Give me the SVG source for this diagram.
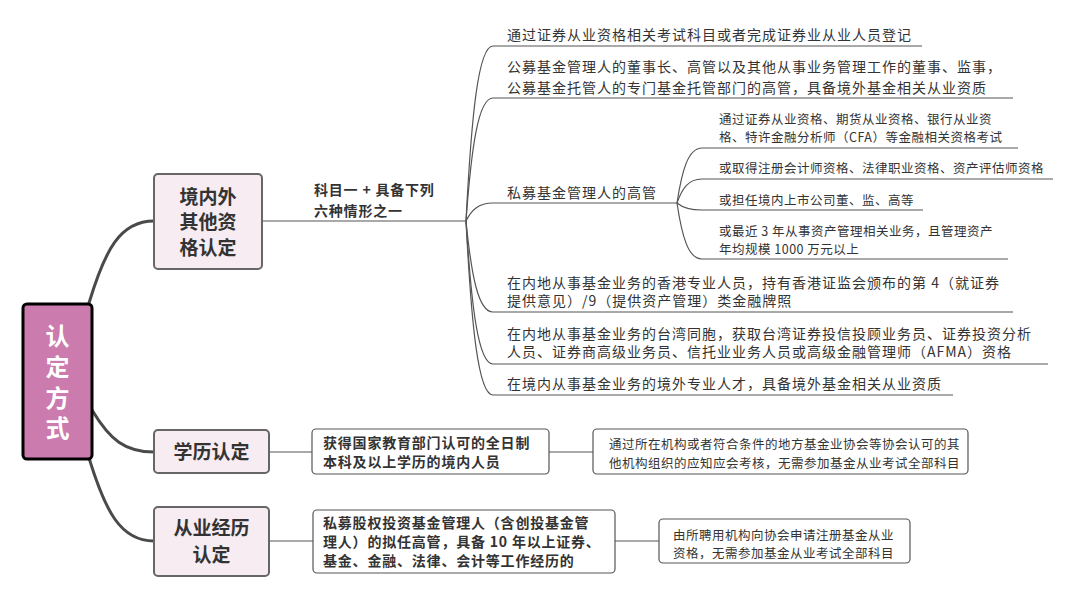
<svg xmlns="http://www.w3.org/2000/svg" width="1074" height="598" viewBox="0 0 1074 598">
<style>
.bg{fill:#ffffff}
.thick{fill:none;stroke:#4a4a4a;stroke-width:3;stroke-linecap:round}
.thin{fill:none;stroke:#555555;stroke-width:1.2}
.root{fill:#CB7BAD;stroke:#000000;stroke-width:3}
.main{fill:#F7ECF2;stroke:#666666;stroke-width:2}
.box{fill:#ffffff;stroke:#555555;stroke-width:1.2}
text{font-family:"Noto Sans CJK SC","Noto Sans",sans-serif;fill:#333333}
.rt{font-size:24px;font-weight:bold;fill:#ffffff;writing-mode:vertical-rl;letter-spacing:6.7px}
.mt{font-size:19px;font-weight:bold;text-anchor:middle}
.it{font-size:14px;letter-spacing:1px}
.st{font-size:12.5px;letter-spacing:0.5px}
.bt{font-size:14px;font-weight:bold;letter-spacing:0.8px}
</style>
<rect class="bg" x="0" y="0" width="1074" height="598"/>
<g id="connectors">
<path class="thick" d="M89,303 C105,250 120,221 154,221"/>
<path class="thick" d="M92,410 C110,440 125,452 154,452"/>
<path class="thick" d="M89,458 C105,510 120,541 154,541"/>
<path class="thin" d="M262,221 L466,221"/>
<path class="thin" d="M466,221 C471.4,116 478.2,46 493,46 L922,46"/>
<path class="thin" d="M466,221 C471.4,147.2 478.2,98 493,98 L1013,98"/>
<path class="thin" d="M466,221 C471.4,210.2 478.2,203 493,203 L677,203"/>
<path class="thin" d="M466,221 C471.4,275.6 478.2,312 493,312 L1013,312"/>
<path class="thin" d="M466,221 C471.4,306.8 478.2,364 493,364 L1048,364"/>
<path class="thin" d="M466,221 C471.4,325.4 478.2,395 493,395 L953,395"/>
<path class="thin" d="M677,203 C682,170 688.25,148 702,148 L1018,148"/>
<path class="thin" d="M677,203 C682,188.6 688.25,179 702,179 L1053,179"/>
<path class="thin" d="M677,203 C682,207.2 688.25,210 702,210 L923,210"/>
<path class="thin" d="M677,203 C682,236.6 688.25,259 702,259 L1008,259"/>
<path class="thin" d="M269,452 L312,452"/>
<path class="thin" d="M549,452 L593,452"/>
<path class="thin" d="M269,541 L313,541"/>
<path class="thin" d="M615,541 L659,541"/>
</g>
<g id="root">
<rect class="root" x="23" y="304" width="69" height="155" rx="4"/>
<text class="rt" x="57.5" y="324">认定方式</text>
</g>
<g id="node-other">
<rect class="main" x="154" y="174" width="108" height="95" rx="4"/>
<text class="mt" x="208" y="204">境内外</text>
<text class="mt" x="208" y="229">其他资</text>
<text class="mt" x="208" y="255">格认定</text>
</g>
<g id="label-six">
<text class="bt" x="314" y="195">科目一 + 具备下列</text>
<text class="bt" x="314" y="216">六种情形之一</text>
</g>
<g id="item1"><text class="it" x="507" y="40">通过证券从业资格相关考试科目或者完成证券业从业人员登记</text></g>
<g id="item2">
<text class="it" x="507" y="72">公募基金管理人的董事长、高管以及其他从事业务管理工作的董事、监事，</text>
<text class="it" x="507" y="93">公募基金托管人的专门基金托管部门的高管，具备境外基金相关从业资质</text>
</g>
<g id="item3"><text class="it" x="507" y="198">私募基金管理人的高管</text></g>
<g id="sub1">
<text class="st" x="719" y="124">通过证券从业资格、期货从业资格、银行从业资</text>
<text class="st" x="719" y="142">格、特许金融分析师（CFA）等金融相关资格考试</text>
</g>
<g id="sub2"><text class="st" x="719" y="173">或取得注册会计师资格、法律职业资格、资产评估师资格</text></g>
<g id="sub3"><text class="st" x="719" y="205">或担任境内上市公司董、监、高等</text></g>
<g id="sub4">
<text class="st" x="719" y="236">或最近 3 年从事资产管理相关业务，且管理资产</text>
<text class="st" x="719" y="254">年均规模 1000 万元以上</text>
</g>
<g id="item5">
<text class="it" x="507" y="288">在内地从事基金业务的香港专业人员，持有香港证监会颁布的第 4（就证券</text>
<text class="it" x="507" y="306">提供意见）/9（提供资产管理）类金融牌照</text>
</g>
<g id="item6">
<text class="it" x="507" y="339">在内地从事基金业务的台湾同胞，获取台湾证券投信投顾业务员、证券投资分析</text>
<text class="it" x="507" y="357">人员、证券商高级业务员、信托业业务人员或高级金融管理师（AFMA）资格</text>
</g>
<g id="item7"><text class="it" x="507" y="389">在境内从事基金业务的境外专业人才，具备境外基金相关从业资质</text></g>
<g id="node-edu">
<rect class="main" x="154" y="430" width="115" height="43" rx="4"/>
<text class="mt" x="211.5" y="459">学历认定</text>
</g>
<g id="edu-cond">
<rect class="box" x="312" y="429" width="237" height="45" rx="4"/>
<text class="bt" x="323" y="448">获得国家教育部门认可的全日制</text>
<text class="bt" x="323" y="467">本科及以上学历的境内人员</text>
</g>
<g id="edu-result">
<rect class="box" x="593" y="429" width="375" height="45" rx="4"/>
<text class="st" x="609" y="449">通过所在机构或者符合条件的地方基金业协会等协会认可的其</text>
<text class="st" x="609" y="468">他机构组织的应知应会考核，无需参加基金从业考试全部科目</text>
</g>
<g id="node-exp">
<rect class="main" x="154" y="507" width="115" height="69" rx="4"/>
<text class="mt" x="211.5" y="535">从业经历</text>
<text class="mt" x="211.5" y="562">认定</text>
</g>
<g id="exp-cond">
<rect class="box" x="313" y="510" width="302" height="63" rx="4"/>
<text class="bt" x="323" y="528">私募股权投资基金管理人（含创投基金管</text>
<text class="bt" x="323" y="547">理人）的拟任高管，具备 10 年以上证券、</text>
<text class="bt" x="323" y="566">基金、金融、法律、会计等工作经历的</text>
</g>
<g id="exp-result">
<rect class="box" x="659" y="519" width="251" height="44" rx="4"/>
<text class="st" x="673" y="540">由所聘用机构向协会申请注册基金从业</text>
<text class="st" x="673" y="558">资格，无需参加基金从业考试全部科目</text>
</g>
</svg>
